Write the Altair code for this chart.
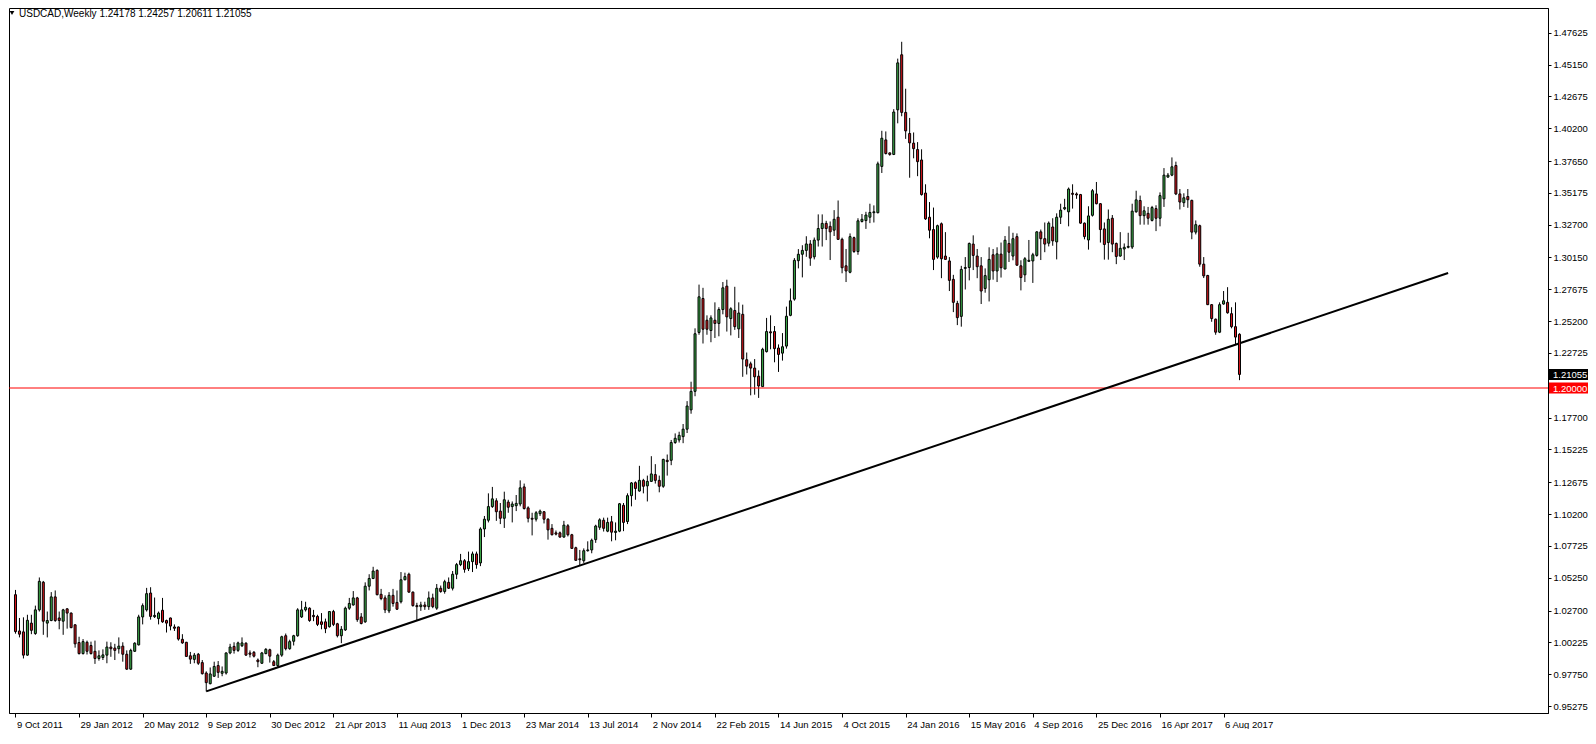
import altair as alt
import pandas as pd

# ---------------- data (USDCAD weekly, week 0 = 9 Oct 2011) ----------------
opens = [1.0393,1.0111,1.0104,0.9923,1.0172,1.0091,1.0275,1.0490,1.0172,1.0192,
1.0376,1.0212,1.0187,1.0283,1.0250,1.0159,1.0021,0.9935,1.0023,0.9998,
0.9953,0.9897,0.9905,0.9923,0.9986,0.9978,0.9973,0.9993,0.9930,0.9814,
0.9953,1.0003,1.0220,1.0275,1.0406,1.0222,1.0207,1.0272,1.0192,1.0212,
1.0142,1.0142,1.0046,1.0023,0.9918,0.9890,0.9930,0.9865,0.9784,0.9701,
0.9759,0.9842,0.9782,0.9784,0.9940,0.9991,0.9960,0.9996,1.0016,0.9940,
0.9945,0.9885,0.9860,0.9935,0.9965,0.9872,0.9842,0.9923,1.0074,0.9973,
1.0031,1.0074,1.0220,1.0275,1.0288,1.0232,1.0224,1.0182,1.0182,1.0144,
1.0262,1.0167,1.0074,1.0119,1.0288,1.0313,1.0368,1.0220,1.0182,1.0459,
1.0519,1.0582,1.0396,1.0368,1.0267,1.0388,1.0333,1.0338,1.0509,1.0552,
1.0413,1.0308,1.0300,1.0313,1.0300,1.0368,1.0288,1.0443,1.0418,1.0489,
1.0443,1.0552,1.0627,1.0657,1.0595,1.0650,1.0710,1.0640,1.0904,1.0972,
1.1078,1.1123,1.1043,1.0987,1.1113,1.1078,1.1085,1.1098,1.1231,1.1068,
1.0987,1.0980,1.1023,1.1038,1.0980,1.0909,1.0874,1.0874,1.0841,1.0929,
1.0859,1.0758,1.0672,1.0657,1.0735,1.0741,1.0821,1.0917,1.0972,1.0887,
1.0960,1.0877,1.0887,1.1088,1.0962,1.1163,1.1264,1.1199,1.1282,1.1239,
1.1274,1.1327,1.1282,1.1236,1.1438,1.1438,1.1576,1.1596,1.1622,1.1680,
1.1830,1.1974,1.2432,1.2696,1.2527,1.2447,1.2527,1.2502,1.2610,1.2792,
1.2540,1.2603,1.2460,1.2573,1.2220,1.2188,1.2155,1.2092,1.2011,1.2283,
1.2437,1.2439,1.2311,1.2271,1.2326,1.2565,1.2691,1.2990,1.3040,1.3070,
1.3120,1.3020,1.3150,1.3240,1.3280,1.3257,1.3227,1.3328,1.3156,1.2950,
1.2900,1.3169,1.3061,1.3295,1.3302,1.3328,1.3363,1.3363,1.3723,1.3929,
1.3828,1.3816,1.4163,1.4591,1.4143,1.3979,1.3904,1.3854,1.3773,1.3516,
1.3328,1.3232,1.3018,1.3277,1.3026,1.2988,1.2845,1.2658,1.2557,1.2930,
1.2937,1.3119,1.3026,1.2950,1.2774,1.2842,1.3036,1.2910,1.3041,1.2925,
1.3124,1.3026,1.3177,1.2950,1.2880,1.2985,1.2988,1.3031,1.3214,1.3161,
1.3126,1.3252,1.3136,1.3328,1.3393,1.3370,1.3514,1.3509,1.3504,1.3282,
1.3151,1.3343,1.3509,1.3433,1.3237,1.3131,1.3320,1.3124,1.3026,1.3081,
1.3094,1.3096,1.3370,1.3458,1.3340,1.3358,1.3303,1.3395,1.3320,1.3471,
1.3640,1.3655,1.3730,1.3509,1.3441,1.3489,1.3459,1.3212,1.3262,1.2963,
1.2875,1.2648,1.2535,1.2434,1.2653,1.2666,1.2578,1.2477,1.24178]

highs = [1.0430,1.0212,1.0217,1.0237,1.0237,1.0308,1.0527,1.0500,1.0262,1.0413,
1.0426,1.0262,1.0283,1.0288,1.0255,1.0162,1.0066,1.0048,1.0036,1.0028,
1.0036,0.9960,0.9968,1.0028,1.0023,1.0011,1.0061,1.0023,0.9960,0.9973,
1.0023,1.0237,1.0325,1.0446,1.0451,1.0371,1.0262,1.0368,1.0199,1.0215,
1.0162,1.0145,1.0086,1.0026,0.9948,0.9940,0.9940,0.9885,0.9797,0.9827,
0.9872,0.9877,0.9835,0.9945,1.0011,1.0023,1.0028,1.0061,1.0023,0.9960,
0.9955,0.9897,0.9948,0.9978,0.9973,0.9885,0.9935,1.0074,1.0091,1.0043,
1.0081,1.0288,1.0345,1.0338,1.0295,1.0275,1.0237,1.0250,1.0207,1.0265,
1.0275,1.0174,1.0149,1.0300,1.0368,1.0421,1.0376,1.0250,1.0489,1.0552,
1.0610,1.0590,1.0438,1.0388,1.0413,1.0438,1.0426,1.0569,1.0564,1.0564,
1.0418,1.0330,1.0338,1.0338,1.0418,1.0401,1.0476,1.0464,1.0509,1.0527,
1.0577,1.0640,1.0710,1.0670,1.0728,1.0728,1.0728,1.0917,1.1005,1.1181,
1.1231,1.1143,1.1106,1.1194,1.1131,1.1118,1.1168,1.1282,1.1257,1.1080,
1.1030,1.1043,1.1055,1.1043,1.0987,1.0942,1.0892,1.0884,1.0967,1.0942,
1.0866,1.0766,1.0741,1.0753,1.0808,1.0829,1.0937,1.0987,1.0992,1.0992,
1.1005,1.0955,1.1106,1.1106,1.1181,1.1269,1.1274,1.1395,1.1294,1.1319,
1.1470,1.1408,1.1319,1.1450,1.1483,1.1596,1.1647,1.1660,1.1720,1.1898,
1.2049,1.2464,1.2804,1.2779,1.2565,1.2565,1.2666,1.2628,1.2824,1.2842,
1.2628,1.2787,1.2666,1.2648,1.2276,1.2205,1.2225,1.2137,1.2313,1.2545,
1.2565,1.2482,1.2339,1.2427,1.2633,1.2774,1.3010,1.3080,1.3110,1.3180,
1.3150,1.3170,1.3350,1.3350,1.3300,1.3295,1.3383,1.3458,1.3169,1.3081,
1.3202,1.3177,1.3320,1.3353,1.3370,1.3433,1.3420,1.3760,1.4000,1.3995,
1.3831,1.4168,1.4561,1.4692,1.4327,1.4100,1.3987,1.3912,1.3856,1.3584,
1.3446,1.3403,1.3270,1.3287,1.3212,1.3018,1.2880,1.2678,1.2950,1.3018,
1.3131,1.3187,1.3081,1.3018,1.2930,1.3094,1.3081,1.3094,1.3131,1.3182,
1.3257,1.3207,1.3202,1.2993,1.3018,1.3151,1.3051,1.3219,1.3232,1.3287,
1.3295,1.3320,1.3358,1.3433,1.3471,1.3559,1.3584,1.3521,1.3509,1.3287,
1.3413,1.3547,1.3602,1.3438,1.3287,1.3388,1.3345,1.3131,1.3212,1.3124,
1.3207,1.3433,1.3534,1.3496,1.3413,1.3408,1.3416,1.3421,1.3521,1.3710,
1.3672,1.3793,1.3760,1.3547,1.3514,1.3547,1.3464,1.3303,1.3270,1.3018,
1.2880,1.2653,1.2540,1.2666,1.2754,1.2784,1.2628,1.2666,1.24257]

lows = [1.0090,1.0061,0.9897,0.9918,1.0086,1.0081,1.0262,1.0081,1.0061,1.0187,
1.0182,1.0124,1.0081,1.0129,1.0132,0.9981,0.9928,0.9928,0.9928,0.9928,
0.9855,0.9880,0.9885,0.9860,0.9910,0.9885,0.9935,0.9872,0.9809,0.9809,
0.9948,0.9998,1.0162,1.0262,1.0199,1.0212,1.0162,1.0174,1.0099,1.0116,
1.0111,1.0036,1.0011,0.9910,0.9855,0.9860,0.9847,0.9772,0.9641,0.9696,
0.9754,0.9746,0.9759,0.9772,0.9930,0.9935,0.9948,0.9986,0.9918,0.9905,
0.9905,0.9829,0.9855,0.9930,0.9865,0.9840,0.9829,0.9910,0.9960,0.9965,
0.9998,1.0066,1.0212,1.0262,1.0182,1.0187,1.0149,1.0124,1.0094,1.0137,
1.0149,1.0061,1.0016,1.0111,1.0275,1.0308,1.0182,1.0162,1.0174,1.0426,
1.0514,1.0388,1.0350,1.0250,1.0250,1.0300,1.0275,1.0325,1.0505,1.0408,
1.0300,1.0190,1.0267,1.0275,1.0275,1.0288,1.0275,1.0408,1.0401,1.0438,
1.0426,1.0514,1.0615,1.0564,1.0577,1.0569,1.0595,1.0615,1.0841,1.0955,
1.1068,1.0967,1.0942,1.0912,1.1030,1.0955,1.1043,1.1080,1.1055,1.0955,
1.0854,1.0962,1.1005,1.0947,1.0821,1.0854,1.0854,1.0836,1.0836,1.0846,
1.0751,1.0657,1.0620,1.0640,1.0728,1.0715,1.0796,1.0897,1.0884,1.0879,
1.0808,1.0816,1.0879,1.0887,1.0942,1.1080,1.1131,1.1194,1.1181,1.1118,
1.1269,1.1257,1.1189,1.1224,1.1319,1.1400,1.1566,1.1576,1.1571,1.1650,
1.1800,1.1936,1.2414,1.2346,1.2414,1.2356,1.2389,1.2402,1.2573,1.2439,
1.2409,1.2452,1.2389,1.2087,1.2105,1.1943,1.1948,1.1923,1.2009,1.2276,
1.2301,1.2200,1.2125,1.2213,1.2306,1.2558,1.2679,1.2930,1.2860,1.3020,
1.2950,1.3000,1.3100,1.3100,1.3150,1.2995,1.3182,1.3151,1.2892,1.2824,
1.2892,1.3051,1.3036,1.3287,1.3237,1.3282,1.3287,1.3358,1.3672,1.3816,
1.3806,1.3811,1.4058,1.4113,1.3937,1.3635,1.3786,1.3647,1.3496,1.3307,
1.3164,1.2917,1.3005,1.2854,1.2998,1.2754,1.2590,1.2489,1.2477,1.2766,
1.2837,1.2917,1.2854,1.2653,1.2741,1.2673,1.2842,1.2824,1.2859,1.2925,
1.2980,1.2993,1.2950,1.2759,1.2824,1.2980,1.2817,1.3021,1.2995,1.3056,
1.3101,1.3106,1.3000,1.3275,1.3383,1.3257,1.3395,1.3471,1.3277,1.3156,
1.3076,1.3333,1.3428,1.3131,1.2998,1.2998,1.3056,1.2963,1.3021,1.2995,
1.3086,1.3081,1.3363,1.3270,1.3270,1.3270,1.3295,1.3220,1.3257,1.3408,
1.3635,1.3647,1.3500,1.3388,1.3408,1.3401,1.3157,1.3194,1.2943,1.2855,
1.2645,1.2515,1.2414,1.2427,1.2648,1.2578,1.2464,1.2339,1.20611]

closes = [1.0106,1.0086,0.9923,1.0194,1.0116,1.0275,1.0497,1.0187,1.0192,1.0376,
1.0192,1.0192,1.0275,1.0250,1.0137,1.0011,0.9935,1.0028,0.9953,0.9935,
0.9897,0.9918,0.9925,0.9986,0.9973,0.9960,0.9993,0.9930,0.9814,0.9960,
1.0016,1.0220,1.0308,1.0401,1.0224,1.0232,1.0250,1.0182,1.0172,1.0149,
1.0132,1.0048,1.0018,0.9913,0.9892,0.9923,0.9860,0.9779,0.9709,0.9777,
0.9835,0.9789,0.9797,0.9940,0.9986,0.9960,1.0018,1.0018,0.9923,0.9930,
0.9915,0.9872,0.9940,0.9968,0.9915,0.9842,0.9923,1.0066,0.9973,1.0028,
1.0074,1.0275,1.0275,1.0295,1.0192,1.0222,1.0162,1.0162,1.0129,1.0262,
1.0162,1.0074,1.0124,1.0288,1.0325,1.0368,1.0199,1.0169,1.0459,1.0519,
1.0577,1.0393,1.0363,1.0275,1.0388,1.0325,1.0280,1.0509,1.0534,1.0413,
1.0308,1.0300,1.0313,1.0300,1.0368,1.0300,1.0443,1.0418,1.0494,1.0443,
1.0552,1.0627,1.0657,1.0590,1.0650,1.0710,1.0627,1.0904,1.0980,1.1078,
1.1138,1.1038,1.0987,1.1131,1.1073,1.1098,1.1103,1.1224,1.1063,1.0987,
1.0980,1.1030,1.1043,1.0980,1.0897,1.0859,1.0864,1.0841,1.0934,1.0859,
1.0753,1.0660,1.0665,1.0735,1.0741,1.0816,1.0927,1.0975,1.0909,1.0955,
1.0879,1.0887,1.1100,1.0955,1.1163,1.1262,1.1219,1.1282,1.1236,1.1274,
1.1332,1.1282,1.1236,1.1445,1.1428,1.1576,1.1609,1.1632,1.1680,1.1860,
1.1974,1.2422,1.2709,1.2457,1.2457,1.2545,1.2502,1.2610,1.2779,1.2553,
1.2616,1.2477,1.2583,1.2225,1.2170,1.2155,1.2087,1.2016,1.2301,1.2439,
1.2429,1.2306,1.2261,1.2321,1.2558,1.2678,1.2993,1.3040,1.3070,1.3120,
1.3010,1.3150,1.3240,1.3280,1.3240,1.3214,1.3312,1.3156,1.2935,1.2910,
1.3177,1.3061,1.3300,1.3312,1.3345,1.3365,1.3370,1.3743,1.3942,1.3823,
1.3816,1.4146,1.4528,1.4143,1.3999,1.3906,1.3861,1.3760,1.3504,1.3315,
1.3227,1.3000,1.3262,1.3005,1.3000,1.2837,1.2666,1.2547,1.2922,1.2937,
1.3124,1.3031,1.2943,1.2754,1.2874,1.3000,1.2910,1.3043,1.2935,1.3149,
1.3056,1.3161,1.2955,1.2859,1.3005,1.2993,1.3036,1.3214,1.3161,1.3119,
1.3282,1.3144,1.3328,1.3383,1.3403,1.3547,1.3506,1.3501,1.3282,1.3177,
1.3338,1.3534,1.3433,1.3232,1.3116,1.3312,1.3119,1.3023,1.3086,1.3094,
1.3101,1.3375,1.3463,1.3340,1.3378,1.3320,1.3403,1.3320,1.3496,1.3655,
1.3655,1.3720,1.3509,1.3446,1.3479,1.3464,1.3212,1.3270,1.2963,1.2872,
1.2648,1.2540,1.2434,1.2648,1.2678,1.2585,1.2477,1.2396,1.21055]

# x-axis tick labels, every 16 weeks from week 0
tick_weeks = list(range(0, 305, 16))
tick_labels = ["9 Oct 2011", "29 Jan 2012", "20 May 2012", "9 Sep 2012", "30 Dec 2012",
               "21 Apr 2013", "11 Aug 2013", "1 Dec 2013", "23 Mar 2014", "13 Jul 2014",
               "2 Nov 2014", "22 Feb 2015", "14 Jun 2015", "4 Oct 2015", "24 Jan 2016",
               "15 May 2016", "4 Sep 2016", "25 Dec 2016", "16 Apr 2017", "6 Aug 2017"]

# y-axis tick labels (the 1.20250 label sits under the red price tag)
y_ticks = [1.47625, 1.45150, 1.42675, 1.40200, 1.37650, 1.35175, 1.32700, 1.30150,
           1.27675, 1.25200, 1.22725, 1.17700, 1.15225, 1.12675, 1.10200,
           1.07725, 1.05250, 1.02700, 1.00225, 0.97750, 0.95275]

# trend line (week, price)
trend_week = [48, 360.5]
trend_price = [0.9641, 1.2894]

# horizontal level
level_price = [1.20000]

# price tags on the right axis
tag_price = [1.21055, 1.20000]
tag_kind = ["last", "level"]

title_text = "USDCAD,Weekly  1.24178 1.24257 1.20611 1.21055"

# ---------------- build ----------------
FONT = "Liberation Sans"
FS = 9.5
GREEN = "#3DAE4A"
RED = "#D6161C"
W, H = 1539, 705

n = len(closes)
df = pd.DataFrame({"week": list(range(n)), "open": opens, "high": highs,
                   "low": lows, "close": closes})
df["dir"] = ["up" if c >= o else "down" for o, c in zip(df["open"], df["close"])]

xscale = alt.Scale(domain=[-0.375, (W - 1.5) / 4], nice=False, zero=False)
yscale = alt.Scale(domain=[0.95120, 1.49158], nice=False, zero=False)

label_arr = "[" + ",".join("'" + s + "'" for s in tick_labels) + "]"
xaxis = alt.Axis(values=tick_weeks, labelExpr=label_arr + "[round(datum.value/16)]",
                 title=None, grid=False, labelAlign="left", labelOffset=1,
                 tickSize=4, labelPadding=2, labelFont=FONT, labelFontSize=FS,
                 labelColor="black", tickColor="black", domainColor="black",
                 labelFlush=False, labelOverlap=False)
yaxis = alt.Axis(orient="right", values=y_ticks, format=".5f", title=None, grid=False,
                 tickSize=3, labelPadding=2, labelFont=FONT, labelFontSize=FS,
                 labelColor="black", tickColor="black", domainColor="black",
                 labelFlush=False, labelOverlap=False)


def X(field):
    return alt.X(field, scale=xscale, axis=xaxis)


def Y(field):
    return alt.Y(field, scale=yscale, axis=yaxis)


base = alt.Chart(df)

wicks = base.mark_rule(color="black", strokeWidth=1).encode(
    x=X("week:Q"), y=Y("low:Q"), y2="high:Q")

bodies = base.mark_bar(size=2, stroke="black", strokeWidth=1).encode(
    x=X("week:Q"), y=Y("open:Q"), y2="close:Q",
    color=alt.Color("dir:N", scale=alt.Scale(domain=["up", "down"], range=[GREEN, RED]),
                    legend=None),
)

trend_df = pd.DataFrame({"week": trend_week, "price": trend_price})
trend = alt.Chart(trend_df).mark_line(color="black", strokeWidth=2).encode(
    x=X("week:Q"), y=Y("price:Q"))

level = alt.Chart(pd.DataFrame({"price": level_price})).mark_rule(
    color="#FF0000", strokeWidth=1).encode(y=Y("price:Q"))

tags_df = pd.DataFrame({"price": tag_price, "kind": tag_kind,
                        "label": [f"{p:.5f}" for p in tag_price]})
tag_boxes = alt.Chart(tags_df).mark_bar(orient="horizontal", size=11).encode(
    x=alt.value(W + 1), x2=alt.value(W + 40),
    y=Y("price:Q"),
    color=alt.Color("kind:N", scale=alt.Scale(domain=["last", "level"],
                                              range=["#000000", "#FF0000"]), legend=None),
)
tag_text = alt.Chart(tags_df).mark_text(align="left", baseline="middle", color="white",
                                        font=FONT, fontSize=FS, dy=0.5).encode(
    x=alt.value(W + 5), y=Y("price:Q"), text="label:N")

title_df = pd.DataFrame({"t": [title_text]})
title = alt.Chart(title_df).mark_text(align="left", baseline="middle", color="black",
                                      font=FONT, fontSize=FS + 0.5).encode(
    x=alt.value(10), y=alt.value(5.5), text="t:N")
tri = alt.Chart(title_df).mark_point(shape="triangle-down", filled=True, color="black",
                                     size=22, opacity=1).encode(
    x=alt.value(3), y=alt.value(5))

chart = alt.layer(wicks, level, trend, bodies, tag_boxes, tag_text, title, tri).properties(
    width=W, height=H, padding=0, background="white"
).resolve_scale(color="independent").configure_view(
    stroke="black", strokeWidth=1
).configure_axis(labelOverlap=False)

chart.save("out.html", embed_options={"renderer": "svg", "actions": False})
